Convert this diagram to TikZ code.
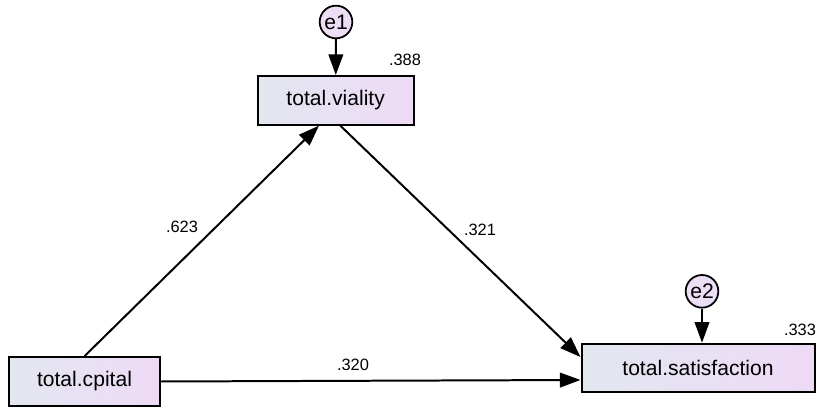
\documentclass[tikz,border=0pt]{standalone}
\usepackage{fontspec}
\setmainfont{Liberation Sans}
\usetikzlibrary{arrows.meta}
\definecolor{boxleft}{RGB}{226,231,240}
\definecolor{boxright}{RGB}{238,218,246}
\definecolor{errfill}{RGB}{236,222,244}
\begin{document}
\begin{tikzpicture}[
  var/.style={draw, line width=1.7pt, left color=boxleft, right color=boxright,
    minimum height=1.46cm, inner sep=0pt, font=\fontsize{18}{20}\selectfont},
  err/.style={draw, circle, line width=1.5pt, fill=errfill, minimum size=0.98cm,
    inner sep=0pt, font=\fontsize{18}{20}\selectfont},
  coef/.style={font=\fontsize{14}{16}\selectfont},
  path/.style={draw, line width=1.7pt, ->, >={Triangle[length=0.62cm,width=0.44cm]}}
]
\useasboundingbox (0,0) rectangle (24.51,12.24);

\node[var, minimum width=4.68cm] (viality) at (10.07,9.23) {total.viality};
\node[var, minimum width=4.53cm] (cpital) at (2.535,0.795) {total.cpital};
\node[var, minimum width=6.99cm] (satisfaction) at (20.94,1.2) {total.satisfaction};

\node[err] (e1) at (10.08,11.58) {e1};
\node[err] (e2) at (21.06,3.5) {e2};

\node[coef] (r1) at (12.15,10.44) {.388};
\node[coef] (r2) at (24.0,2.34) {.333};
\node[coef] (b1) at (5.46,5.43) {.623};
\node[coef] (b2) at (14.4,5.34) {.321};
\node[coef] (b3) at (10.59,1.29) {.320};

\path[path] (e1) -- (viality);
\path[path] (e2) -- (e2 |- satisfaction.north);

\path[path] (cpital.north) -- ([xshift=-0.5cm]viality.south);
\path[path] ([xshift=0.14cm]viality.south) -- ([yshift=0.33cm]satisfaction.west);
\path[path] (cpital.east) -- ([yshift=-0.36cm]satisfaction.west);
\end{tikzpicture}
\end{document}
